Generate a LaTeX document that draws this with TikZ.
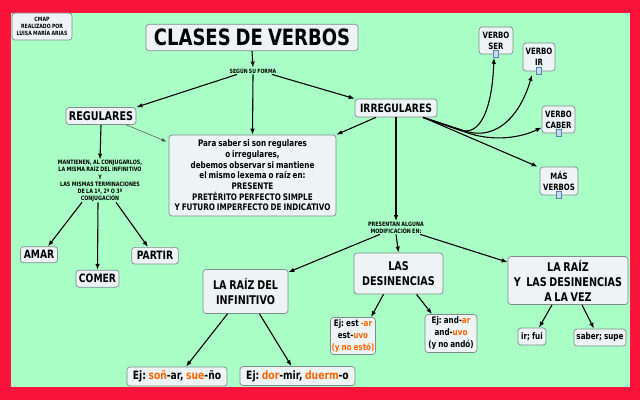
\documentclass[tikz,border=0pt]{standalone}
\usepackage{fontspec}
\setmainfont{DejaVu Sans}[FakeStretch=0.8,WordSpace=0.8]
\usetikzlibrary{arrows.meta}
\definecolor{redb}{RGB}{250,20,60}
\definecolor{greenb}{RGB}{170,255,198}
\definecolor{boxfill}{RGB}{238,244,246}
\definecolor{boxline}{RGB}{125,140,140}
\definecolor{orng}{RGB}{255,102,0}
\definecolor{iconline}{RGB}{90,130,175}
\definecolor{iconfill}{RGB}{200,220,235}
\newcommand\fsz[2]{\fontsize{#1pt}{#2pt}\selectfont\bfseries\frenchspacing}
\tikzset{
  box/.style={draw=boxline, fill=boxfill, rounded corners=3pt, line width=0.7pt,
              align=center, inner sep=1pt},
  lab/.style={align=center, inner sep=0.5pt},
  arr/.style={-{Latex[length=6pt,width=4.5pt]}, line width=1.1pt},
  thinarr/.style={-{Latex[length=5pt,width=3.5pt]}, line width=0.5pt, draw=black!70},
  icon/.style={draw=iconline, fill=iconfill, line width=0.5pt, minimum width=5pt,
               minimum height=7pt, inner sep=0pt}
}
\begin{document}
\begin{tikzpicture}[x=1pt,y=-1pt]
\useasboundingbox (0,0) rectangle (640,400);
\fill[redb] (0,0) rectangle (640,400);
\fill[greenb] (11,13) rectangle (630,387);

% nodes
\node[box, minimum width=60pt, minimum height=27pt, font=\fsz{5.8}{7}] (cmap) at (42,26.5)
  {CMAP\\REALIZADO POR\\LUISA MARÍA ARIAS};
\node[box, minimum width=212pt, minimum height=26.5pt, font=\fsz{22.5}{26}] (title) at (252,37.5)
  {CLASES DE VERBOS};
\node[lab, font=\fsz{5.8}{7}] (segun) at (253,71) {SEGÚN SU FORMA};
\node[box, minimum width=70pt, minimum height=17pt, font=\fsz{12}{14}] (regulares) at (101,116) {REGULARES};
\node[box, minimum width=82pt, minimum height=18pt, font=\fsz{11.5}{14}] (irregulares) at (396,108) {IRREGULARES};
\node[box, minimum width=167pt, minimum height=81pt, font=\fsz{9}{10.7}] (centerbox) at (252.5,175.5)
  {Para saber si son regulares\\o irregulares,\\debemos observar si mantiene\\el mismo lexema o raíz en:\\PRESENTE\\PRETÉRITO PERFECTO SIMPLE\\Y FUTURO IMPERFECTO DE INDICATIVO};
\node[lab, font=\fsz{6}{7.1}] (mantienen) at (100,181)
  {MANTIENEN, AL CONJUGARLOS,\\LA MISMA RAÍZ DEL INFINITIVO\\Y\\LAS MISMAS TERMINACIONES\\DE LA 1ª, 2ª O 3ª\\CONJUGACIÓN};
\node[box, minimum width=37pt, minimum height=16pt, font=\fsz{11.5}{14}] (amar) at (39,254.7) {AMAR};
\node[box, minimum width=43pt, minimum height=17pt, font=\fsz{11.5}{14}] (comer) at (97.5,278.7) {COMER};
\node[box, minimum width=46.7pt, minimum height=16.7pt, font=\fsz{11.5}{14}] (partir) at (155,255.7) {PARTIR};

\node[lab, font=\fsz{6}{7.3}] (presentan) at (396,227.7) {PRESENTAN ALGUNA\\MODIFICACIÓN EN:};
\node[box, minimum width=85pt, minimum height=44pt, font=\fsz{12}{14.5}] (raizinf) at (245.5,291.5)
  {LA RAÍZ DEL\\INFINITIVO};
\node[box, minimum width=89pt, minimum height=41pt, font=\fsz{12}{15}] (desin) at (398.5,273.5)
  {LAS\\DESINENCIAS};
\node[box, minimum width=120pt, minimum height=48pt, font=\fsz{12}{15}] (raizdes) at (568,280.5)
  {LA RAÍZ\\Y\ \ LAS DESINENCIAS\\A LA VEZ};
\node[box, minimum width=40pt, minimum height=37pt, font=\fsz{9}{12}] (est) at (353,336)
  {Ej: est \textcolor{orng}{-ar}\\est-\textcolor{orng}{uvo}\\\textcolor{orng}{(y no estó)}};
\node[box, minimum width=52pt, minimum height=38pt, font=\fsz{9}{12}] (and) at (451,333.5)
  {Ej: and-\textcolor{orng}{ar}\\and-\textcolor{orng}{uvo}\\(y no andó)};
\node[box, minimum width=28pt, minimum height=17pt, font=\fsz{9}{11}] (irfui) at (532,336.5) {ir; fui};
\node[box, minimum width=52pt, minimum height=17pt, font=\fsz{9}{11}] (saber) at (600,337.5) {saber; supe};
\node[box, minimum width=100pt, minimum height=19pt, font=\fsz{11.5}{14}] (sonar) at (177,376.5)
  {Ej: \textcolor{orng}{soñ}-ar, \textcolor{orng}{sue}-ño};
\node[box, minimum width=115pt, minimum height=19pt, font=\fsz{11.5}{14}] (dormir) at (297.5,376)
  {Ej: \textcolor{orng}{dor}-mir, \textcolor{orng}{duerm}-o};

\node[box, minimum width=34pt, minimum height=27pt, font=\fsz{8.7}{11}] (verboser) at (496,40.5) {VERBO\\SER};
\node[box, minimum width=32pt, minimum height=28pt, font=\fsz{8.7}{11}] (verboir) at (539,57) {VERBO\\IR};
\node[box, minimum width=33pt, minimum height=27pt, font=\fsz{8.7}{11}] (caber) at (558.5,119.5) {VERBO\\CABER};
\node[box, minimum width=38pt, minimum height=28pt, font=\fsz{8.7}{11}] (mas) at (559,181) {MÁS\\VERBOS};
\node[icon] (sericon) at (496,54) {};
\node[icon] (iricon) at (539,71) {};
\node[icon] (cabicon) at (559,133) {};
\node[icon] (masicon) at (559,195) {};

% connectors
\draw[arr] (title.south) -- (segun.north);
\draw[arr] ([xshift=8pt]segun.south west) -- (regulares.north east);
\draw[arr] (segun.south) -- (centerbox.north);
\draw[arr] ([xshift=-5pt]segun.south east) -- (irregulares.north west);
\draw[thinarr] ([xshift=-10pt]regulares.south east) -- ([xshift=-2pt,yshift=-7pt]centerbox.north west);
\draw[arr] ([xshift=-20pt]irregulares.south) -- (centerbox.north east);
\draw[arr] (irregulares.south) -- (presentan.north);
\draw[arr] (regulares.south) -- (mantienen.north);
\draw[arr] ([xshift=-18pt]mantienen.south) -- ([xshift=9pt]amar.north);
\draw[arr] ([xshift=-2pt]mantienen.south) -- (comer.north);
\draw[arr] ([xshift=16pt]mantienen.south) -- ([xshift=-7pt]partir.north);
\draw[arr] ([xshift=-16pt]presentan.south) -- ([yshift=-3pt]raizinf.north east);
\draw[arr] (presentan.south) -- (desin.north);
\draw[arr] ([xshift=24pt]presentan.south) -- ([yshift=-6pt]raizdes.north west);
\draw[arr] ([xshift=-18pt]raizinf.south) -- ([xshift=9pt]sonar.north);
\draw[arr] ([xshift=14pt]raizinf.south) -- ([xshift=-6pt]dormir.north);
\draw[arr] ([xshift=-15pt]desin.south) -- ([xshift=18pt]est.north);
\draw[arr] ([xshift=18pt]desin.south) -- ([xshift=-19pt]and.north);
\draw[arr] ([xshift=-16pt]raizdes.south) -- ([xshift=7pt]irfui.north);
\draw[arr] ([xshift=14pt]raizdes.south) -- ([xshift=-6pt]saber.north);

\coordinate (bundle) at ([xshift=27pt]irregulares.south);
\draw[arr] (bundle) -- (460,130) .. controls (480,136.5) and (492,110) .. ([xshift=-2pt]sericon.south);
\draw[arr] (bundle) -- (465,131) .. controls (500,142) and (522,110) .. ([xshift=-7pt]iricon.south);
\draw[arr] (bundle) -- (465,132) .. controls (492,142) and (520,138) .. ([yshift=-8pt]caber.west);
\draw[arr] (bundle) -- ([xshift=-2pt]mas.north west);
\end{tikzpicture}
\end{document}
